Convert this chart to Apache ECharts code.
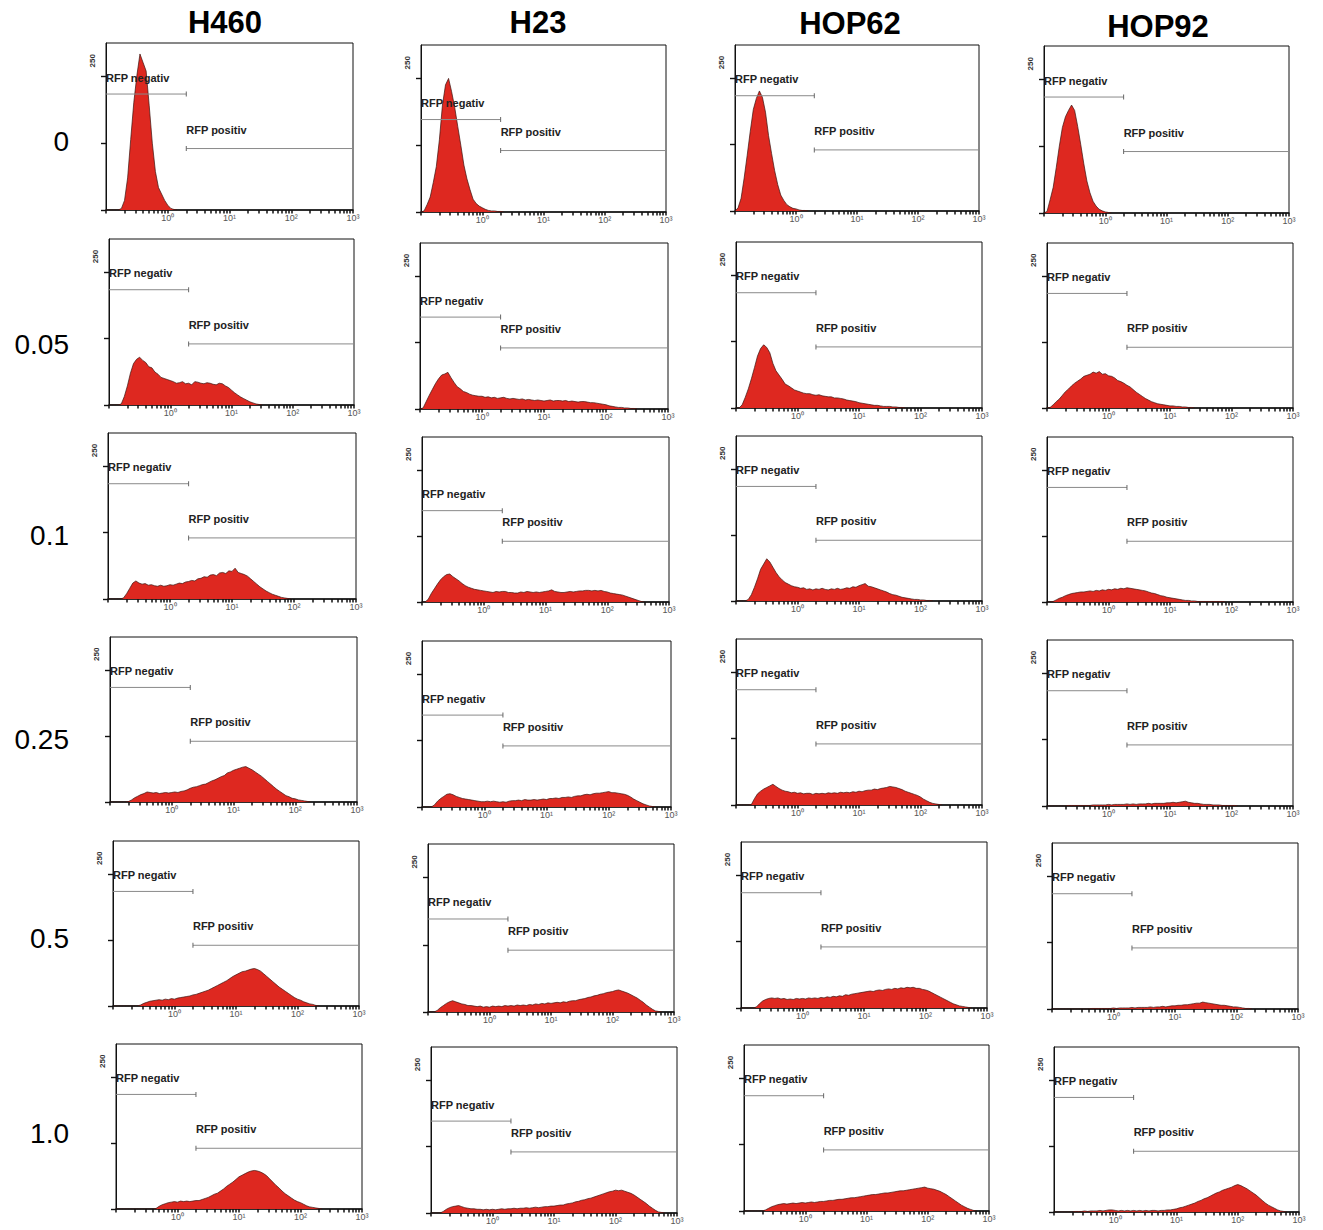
<!DOCTYPE html>
<html>
<head>
<meta charset="utf-8">
<script src="https://cdn.jsdelivr.net/npm/echarts@6/dist/echarts.min.js"></script>
<style>
  html, body { margin: 0; padding: 0; background: #fff; }
  #chart { width: 1323px; height: 1230px; }
</style>
</head>
<body>
<div id="chart"></div>
<script>
// ---------- categories / tick labels ----------
const cellLines = ['H460', 'H23', 'HOP62', 'HOP92'];
const doses = ['0', '0.05', '0.1', '0.25', '0.5', '1.0'];
const xTickExps = [0, 1, 2, 3];
const xTickLabels = ['10\u2070', '10\u00B9', '10\u00B2', '10\u00B3'];
const yTicks = [0, 125, 250];
const yTickLabels = [250];
const gateLabels = ['RFP negativ', 'RFP positiv'];

// ---------- gates (per cell line column) ----------
const negGate = [217, 173, 217, 217];
const posGate = [115, 115, 115, 115];
const gateSplitExp = 0.3; // log10(2)

// ---------- histogram channels: log10 fluorescence, step 0.05 from -1 ----------
const binsLog = Array.from({ length: 81 }, (_, i) => +(-1 + i * 0.05).toFixed(2));

// ---------- histogram counts ----------
// dose 0
const h460_0  = [0,0,0,0,0,3,18,60,132,201,252,292,276,260,195,125,72,42,30,18, 9,3,1,0];
const h23_0   = [0,2,14,28,55,85,135,200,238,250,225,196,160,125,88,62,42,24,16,11, 8,5,3,2,2,1,1,0];
const hop62_0 = [0,6,24,62,105,150,191,212,226,214,186,142,108,76,50,30,20,12,8,5, 4,2,1,1,0];
const hop92_0 = [0,3,25,48,85,125,160,180,192,202,192,162,128,92,60,38,22,13,7,4, 2,1,0];
// dose 0.05
const h460_005  = [0,0,0,0,2,16,36,60,78,86,90,84,80,72,70,62,58,52,50,48, 46,44,41,42,44,40,41,38,44,43,41,40,42,41,39,38,41,40,36,33, 28,23,19,15,12,9,6,4,2,1,0];
const h23_005   = [0,2,14,26,37,48,57,64,66,69,59,50,42,38,33,31,28,26,25,24, 24,22,23,21,22,20,21,22,20,19,20,19,18,19,17,18,17,16,17,16, 15,16,17,15,16,16,15,16,14,15,14,13,14,14,13,12,12,11,10,9, 8,6,5,4,3,3,2,2,1,1,0];
const hop62_005 = [0,0,6,20,36,55,76,98,112,119,114,104,84,70,62,54,45,42,38,34, 32,30,28,27,27,25,24,25,23,22,21,21,19,19,18,17,15,14,13,12, 10,9,8,7,6,5,5,4,3,3,3,2,2,1,1,0];
const hop92_005 = [0,1,6,12,17,24,31,36,42,47,51,55,60,62,64,68,66,69,64,65, 61,60,57,52,50,47,43,40,35,30,26,22,18,15,12,10,8,7,6,5, 4,4,3,3,2,2,1,1,0];
// dose 0.1
const h460_01  = [0,0,0,0,0,2,10,20,30,34,30,28,29,26,27,25,24,26,24,25, 27,26,28,30,29,32,33,35,34,38,39,42,41,45,46,44,49,50,48,53, 52,58,50,48,46,43,38,33,28,23,19,15,12,9,7,5,3,2,1,0];
const h23_01   = [0,0,5,16,25,34,42,48,52,53,48,44,40,35,31,28,26,24,23,22, 21,20,19,18,20,19,20,20,18,18,17,17,19,18,20,19,18,19,18,19, 20,21,23,20,19,18,18,19,20,19,20,21,21,22,22,21,22,21,22,20, 19,17,16,15,14,13,11,9,7,5,3,1,0];
const hop62_01 = [0,0,0,0,3,12,26,42,60,70,80,74,64,54,46,40,35,32,29,27, 26,24,25,22,23,21,23,22,24,22,21,23,22,24,22,23,25,24,27,26, 29,31,33,28,27,25,23,21,19,17,14,12,11,9,7,6,5,4,3,3, 2,2,1,1,0];
const hop92_01 = [0,0,1,4,7,9,12,14,16,17,18,19,19,20,21,20,22,21,23,22, 24,23,25,24,26,25,27,26,25,24,23,22,21,19,17,16,14,12,11,9, 8,7,6,5,4,3,3,2,2,1,1,1,1,1,1,1,1,1,0];
// dose 0.25
const h460_025  = [0,0,0,0,0,0,1,4,8,11,14,16,19,18,17,18,16,17,18,17, 18,19,18,20,21,23,26,28,29,31,33,34,37,40,42,45,48,50,55,57, 60,62,64,66,67,64,61,57,53,49,44,39,34,29,24,20,16,12,10,7, 6,4,3,2,1,0];
const h23_025   = [0,0,0,0,4,11,16,20,24,25,23,20,18,16,15,14,13,12,11,10, 10,11,10,11,10,9,10,9,11,12,12,13,12,14,13,13,14,13,14,15, 14,16,16,17,16,18,18,19,18,20,21,21,23,24,23,25,26,26,27,28, 29,27,27,26,25,24,22,19,15,12,9,6,4,2,1,0];
const hop62_025 = [0,0,0,0,0,1,12,21,26,30,33,36,39,35,31,28,26,25,23,24, 22,23,21,22,22,20,22,21,22,21,23,22,23,22,24,23,24,23,25,24, 26,25,27,28,28,30,29,31,32,33,35,34,33,31,29,26,24,22,20,18, 15,11,8,5,3,2,1,0];
const hop92_025 = [0,0,0,0,0,0,0,1,1,1,1,1,1,1,1,2,2,2,2,2, 3,2,3,3,3,3,4,3,4,3,4,4,4,5,4,5,5,5,5,6, 6,7,6,7,8,9,7,6,5,5,4,3,3,3,2,2,2,1,1,1, 1,1,0];
// dose 0.5
const h460_05  = [0,0,0,0,0,0,0,0,0,2,5,7,9,10,11,12,11,13,12,14, 13,15,16,17,18,19,21,22,24,26,28,30,33,36,39,42,45,48,52,56, 59,62,65,66,68,70,71,69,66,61,56,51,46,41,36,32,28,24,20,16, 13,11,8,6,4,3,1,0];
const h23_05   = [0,0,0,3,8,12,16,19,21,19,17,15,14,12,12,11,10,11,9,10, 9,11,10,11,10,12,11,12,11,13,12,13,12,14,13,15,14,16,15,17, 16,17,18,17,19,18,20,21,21,23,24,25,27,28,30,31,33,34,36,37, 38,40,41,39,37,35,32,29,26,22,18,13,9,5,2,1,0];
const hop62_05 = [0,0,0,0,0,2,8,13,16,18,19,18,19,17,18,16,17,16,18,17, 18,17,19,18,19,18,20,19,21,20,22,21,23,22,25,24,26,27,28,29, 30,31,32,31,33,34,33,35,36,35,37,36,38,37,39,38,39,37,37,35, 34,32,29,26,23,20,17,14,11,8,6,4,3,2,1,0];
const hop92_05 = [0,0,0,0,0,0,0,0,0,0,0,0,0,1,1,1,1,1,1,1, 2,1,2,2,2,2,3,2,3,3,3,3,4,3,4,4,5,4,5,6, 6,7,7,8,8,9,10,11,11,13,12,11,10,9,8,7,7,6,5,4, 4,3,2,1,1,0];
// dose 1.0
const h460_1  = [0,0,0,0,0,0,0,0,0,0,0,0,0,1,5,8,10,12,13,14, 13,15,14,15,14,15,16,16,18,20,22,25,28,30,34,38,43,47,51,56, 61,64,67,70,72,73,72,70,67,63,57,51,45,40,34,29,25,21,17,14, 12,9,6,4,3,2,1,0];
const h23_1   = [0,0,0,0,3,7,10,12,13,14,12,10,9,8,8,7,7,6,7,6, 7,6,7,8,7,8,8,9,8,9,9,10,9,10,11,10,11,12,12,13, 13,14,15,15,17,18,19,21,22,24,25,27,28,30,32,34,36,38,40,41, 43,42,43,41,39,37,34,30,26,22,18,13,9,5,2,1,0];
const hop62_1 = [0,0,0,0,0,0,0,2,5,8,10,12,13,14,13,14,15,14,15,16, 15,16,17,16,17,18,18,19,20,20,21,22,22,23,24,25,25,26,27,28, 29,30,31,31,32,33,34,34,35,36,37,38,38,39,40,41,42,43,44,45, 43,42,41,39,37,34,31,27,23,19,15,11,8,5,3,1,0];
const hop92_1 = [0,0,0,0,0,0,0,1,1,1,2,1,2,2,2,3,2,3,4,4, 3,2,3,2,3,2,3,2,3,2,3,2,3,3,2,3,3,4,4,5, 6,8,9,11,13,15,17,20,22,25,27,30,33,36,38,41,43,45,47,50, 52,50,47,44,40,36,32,27,22,17,13,10,7,4,2,1,0];

const histograms = [
  [h460_0,   h23_0,   hop62_0,   hop92_0],
  [h460_005, h23_005, hop62_005, hop92_005],
  [h460_01,  h23_01,  hop62_01,  hop92_01],
  [h460_025, h23_025, hop62_025, hop92_025],
  [h460_05,  h23_05,  hop62_05,  hop92_05],
  [h460_1,   h23_1,   hop62_1,   hop92_1]
];

// ---------- layout (plot boxes: left, top, right, bottom in px) ----------
const boxes = [
  [[106,43,353,210],[421,45,666,212],[735,45,979,211],[1044,46,1289,213]],
  [[109,239,354,405],[420,243,668,409],[736,242,982,408],[1047,243,1293,408]],
  [[108,433,356,599],[422,437,669,602],[736,436,982,601],[1047,437,1293,602]],
  [[110,637,357,802],[422,641,671,807],[736,639,982,805],[1047,640,1293,806]],
  [[113,841,359,1006],[428,844,674,1012],[741,842,987,1008],[1052,843,1298,1009]],
  [[116,1044,362,1209],[431,1047,677,1213],[744,1045,989,1211],[1054,1047,1299,1212]]
];
const titlePos = [[225,22],[538,22],[850,23],[1158,26]];
const rowLabelY = [141, 344, 535, 739, 938, 1133];

const FONT = '"Liberation Sans", Arial, Helvetica, sans-serif';
const RED = '#de2820';

// decade + minor tick positions on the log axis
const tickExps = [];
for (let d = -1; d < 3; d++) {
  for (let k = 1; k <= 9; k++) tickExps.push(d + Math.log10(k));
}
tickExps.push(3);

const grids = [], xAxes = [], yAxes = [], series = [];
let idx = 0;
for (let r = 0; r < doses.length; r++) {
  for (let c = 0; c < cellLines.length; c++) {
    const [l, t, rt, b] = boxes[r][c];
    grids.push({
      left: l, top: t, width: rt - l, height: b - t,
      show: true, borderColor: '#111', borderWidth: 1, backgroundColor: '#fff'
    });
    xAxes.push({
      type: 'value', gridIndex: idx, min: -1, max: 3, interval: 1,
      axisLine: { show: true, onZero: false, lineStyle: { color: '#111', width: 1.5 } },
      axisTick: { show: true, customValues: tickExps, length: 3.5, lineStyle: { color: '#111', width: 1.5 } },
      axisLabel: {
        show: true, customValues: xTickExps,
        formatter: v => xTickLabels[xTickExps.indexOf(Math.round(v))],
        fontSize: 9, color: '#555', margin: 3, fontFamily: FONT
      },
      splitLine: { show: false }
    });
    yAxes.push({
      type: 'value', gridIndex: idx, min: 0, max: 312.5, interval: 125,
      axisLine: { show: true, onZero: false, lineStyle: { color: '#111', width: 1 } },
      axisTick: { show: true, customValues: yTicks, length: 5, lineStyle: { color: '#111', width: 1.4 } },
      axisLabel: {
        show: true, customValues: yTickLabels, rotate: 90,
        align: 'left', verticalAlign: 'middle', margin: 14, padding: [0, 0, 0, 9],
        fontSize: 8, fontWeight: 'bold', color: '#333', fontFamily: FONT
      },
      splitLine: { show: false }
    });
    // histogram
    series.push({
      type: 'line', xAxisIndex: idx, yAxisIndex: idx,
      data: histograms[r][c].map((v, i) => [binsLog[i], v]),
      symbol: 'none', showSymbol: false, silent: true,
      lineStyle: { color: '#3b1410', width: 0.7 },
      areaStyle: { color: RED, opacity: 1 },
      z: 2, animation: false
    });
    // gates
    const labelStyle = (txt) => ({
      show: true, formatter: txt, position: 'top', align: 'left', distance: 11,
      fontSize: 11, fontWeight: 'bold', color: '#222', fontFamily: FONT
    });
    series.push({
      type: 'line', xAxisIndex: idx, yAxisIndex: idx, silent: true, z: 3,
      symbol: 'rect', symbolSize: [1, 5], itemStyle: { color: '#666' },
      lineStyle: { color: '#8a8a8a', width: 1 },
      data: [
        { value: [-1, negGate[c]], symbolSize: 0, label: labelStyle(gateLabels[0]) },
        { value: [gateSplitExp, negGate[c]] }
      ],
      animation: false
    });
    series.push({
      type: 'line', xAxisIndex: idx, yAxisIndex: idx, silent: true, z: 3,
      symbol: 'rect', symbolSize: [1, 5], itemStyle: { color: '#666' },
      lineStyle: { color: '#8a8a8a', width: 1 },
      data: [
        { value: [gateSplitExp, posGate[c]], label: labelStyle(gateLabels[1]) },
        { value: [3, posGate[c]], symbolSize: 0 }
      ],
      animation: false
    });
    idx++;
  }
}

const graphics = [];
cellLines.forEach((name, i) => {
  graphics.push({
    type: 'text', x: titlePos[i][0], y: titlePos[i][1],
    style: { text: name, font: 'bold 31px ' + FONT, fill: '#000', align: 'center', verticalAlign: 'middle' }
  });
});
doses.forEach((d, i) => {
  graphics.push({
    type: 'text', x: 69, y: rowLabelY[i],
    style: { text: d, font: '28px ' + FONT, fill: '#000', align: 'right', verticalAlign: 'middle' }
  });
});

const chart = echarts.init(document.getElementById('chart'), null, { renderer: 'svg' });
chart.setOption({
  animation: false,
  backgroundColor: '#fff',
  grid: grids,
  xAxis: xAxes,
  yAxis: yAxes,
  series: series,
  graphic: graphics
});
</script>
</body>
</html>
